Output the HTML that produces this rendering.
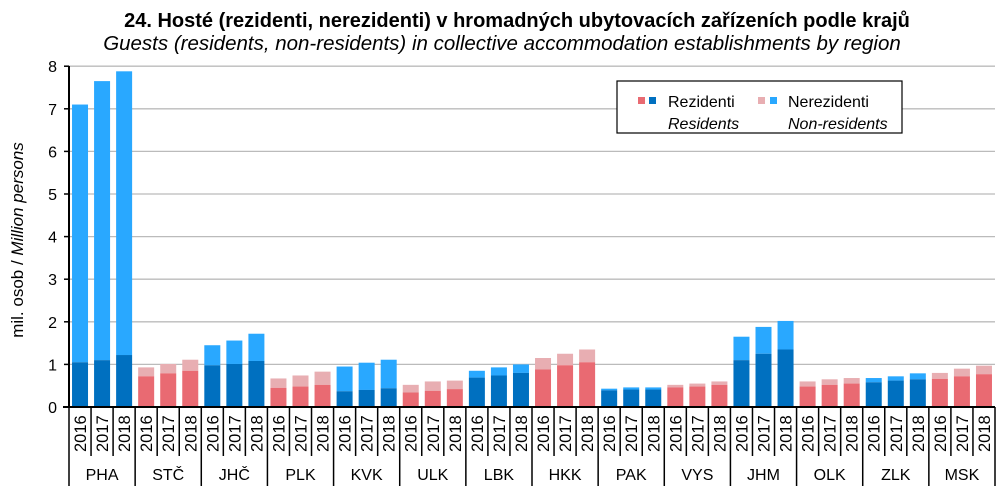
<!DOCTYPE html>
<html><head><meta charset="utf-8"><style>
body{margin:0;background:#fff;}
svg{display:block;font-family:"Liberation Sans",Arial,sans-serif;}
</style></head><body>
<svg id="c" width="1005" height="503" xmlns="http://www.w3.org/2000/svg">
<text x="517" y="27" text-anchor="middle" font-size="20" font-weight="bold" fill="#000">24. Hosté (rezidenti, nerezidenti) v hromadných ubytovacích zařízeních podle krajů</text>
<text x="502" y="50" text-anchor="middle" font-size="20.5" font-style="italic" fill="#000">Guests (residents, non-residents) in collective accommodation establishments by region</text>
<g id="grid"></g>
<g id="bars"></g>
<g id="axes"></g>
<text transform="translate(23,240) rotate(-90)" text-anchor="middle" font-size="17" fill="#000">mil. osob / <tspan font-style="italic">Million persons</tspan></text>
<rect x="617" y="81" width="285" height="52" fill="#fff" stroke="#000" stroke-width="1.2"/>
<rect x="638" y="97" width="7" height="7" fill="#E96A72"/>
<rect x="649" y="97" width="7" height="7" fill="#0070C0"/>
<text x="668" y="107" font-size="16" fill="#000">Rezidenti</text>
<text x="668" y="129" font-size="16" font-style="italic" fill="#000">Residents</text>
<rect x="758" y="97" width="7" height="7" fill="#E8AEB2"/>
<rect x="770" y="97" width="7" height="7" fill="#29A8FF"/>
<text x="788" y="107" font-size="16" fill="#000">Nerezidenti</text>
<text x="788" y="129" font-size="16" font-style="italic" fill="#000">Non-residents</text>
</svg>
<script>
var NS="http://www.w3.org/2000/svg";
function el(p,t,a,txt){var e=document.createElementNS(NS,t);for(var k in a)e.setAttribute(k,a[k]);if(txt!==undefined)e.textContent=txt;p.appendChild(e);return e;}
var g=document.getElementById('grid'),b=document.getElementById('bars'),ax=document.getElementById('axes');
var x0=69,x1=995,y0=407,ppu=42.6;
for(var i=0;i<=8;i++){var y=y0-i*ppu;
 if(i>0)el(g,'line',{x1:x0,x2:x1,y1:y,y2:y,stroke:'#bbb','stroke-width':1.3});
 el(ax,'text',{x:57,y:y+6,'text-anchor':'end','font-size':16},String(i));}
var names=['PHA','STČ','JHČ','PLK','KVK','ULK','LBK','HKK','PAK','VYS','JHM','OLK','ZLK','MSK'];
var d=[[[1.05,7.1],[1.1,7.65],[1.22,7.88]],[[0.72,0.93],[0.79,1.01],[0.85,1.11]],[[0.98,1.45],[1.01,1.56],[1.08,1.72]],[[0.45,0.67],[0.48,0.74],[0.52,0.83]],[[0.37,0.95],[0.4,1.04],[0.44,1.11]],[[0.34,0.52],[0.38,0.6],[0.42,0.62]],[[0.69,0.85],[0.74,0.93],[0.8,1.0]],[[0.88,1.15],[0.98,1.25],[1.05,1.35]],[[0.39,0.43],[0.41,0.46],[0.41,0.46]],[[0.46,0.52],[0.48,0.55],[0.52,0.6]],[[1.1,1.65],[1.25,1.88],[1.35,2.02]],[[0.48,0.6],[0.52,0.65],[0.55,0.68]],[[0.58,0.68],[0.62,0.72],[0.65,0.79]],[[0.66,0.8],[0.72,0.9],[0.77,0.97]]];
var gw=(x1-x0)/14,sw=gw/3,bw=16;
for(var r=0;r<14;r++){var blue=r%2==0;
 for(var j=0;j<3;j++){var sx=x0+r*gw+j*sw,bx=sx+(sw-bw)/2,v=d[r][j];
  var hr=v[0]*ppu,ht=v[1]*ppu;
  el(b,'rect',{x:bx,y:y0-ht,width:bw,height:ht-hr,fill:blue?'#29A8FF':'#E8AEB2'});
  el(b,'rect',{x:bx,y:y0-hr,width:bw,height:hr,fill:blue?'#0070C0':'#E96A72'});
  el(ax,'text',{transform:'translate('+(sx+sw/2+6)+',452) rotate(-90)','font-size':16.5},['2016','2017','2018'][j]);
  if(j>0)el(ax,'line',{x1:sx,x2:sx,y1:y0,y2:456,stroke:'#000','stroke-width':1.5});
 }
 var gx=x0+r*gw;
 el(ax,'line',{x1:gx,x2:gx,y1:y0,y2:486,stroke:'#000','stroke-width':1.5});
 el(ax,'text',{x:gx+gw/2,y:480,'text-anchor':'middle','font-size':16},names[r]);
}
el(ax,'line',{x1:x1,x2:x1,y1:y0,y2:486,stroke:'#000','stroke-width':1.5});
el(ax,'line',{x1:x0,x2:x0,y1:66,y2:y0,stroke:'#000','stroke-width':2});
el(ax,'line',{x1:x0-6,x2:x1,y1:y0,y2:y0,stroke:'#000','stroke-width':2});
for(var i=0;i<=8;i++)el(ax,'line',{x1:x0-5,x2:x0,y1:y0-i*ppu,y2:y0-i*ppu,stroke:'#000','stroke-width':1.5});
</script>
</body></html>
